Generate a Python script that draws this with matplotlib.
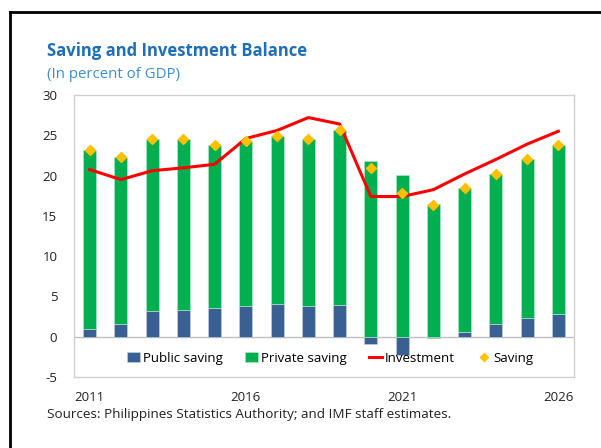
import matplotlib
matplotlib.use("Agg")
import matplotlib.pyplot as plt
from matplotlib.lines import Line2D
import numpy as np

years = list(range(2011, 2027))
public = [0.96, 1.6, 3.17, 3.33, 3.58, 3.83, 4.04, 3.83, 3.92, -0.92, -2.25, -0.1, 0.6, 1.6, 2.3, 2.83]
total_saving = [23.2, 22.25, 24.6, 24.6, 23.8, 24.3, 24.95, 24.6, 25.67, 20.9, 17.85, 16.4, 18.4, 20.25, 22.1, 23.8]
investment = [20.75, 19.5, 20.6, 20.96, 21.4, 24.6, 25.6, 27.2, 26.4, 17.4, 17.4, 18.25, 20.2, 22.0, 23.9, 25.5]
xtick_labels = ["2011", "2016", "2021", "2026"]

pub = np.array(public)
tot = np.array(total_saving)
private = tot - pub
bottom_priv = np.maximum(pub, 0)

plt.rcParams['font.family'] = ['Open Sans', 'DejaVu Sans']
plt.rcParams['axes.unicode_minus'] = False

fig = plt.figure(figsize=(6.01, 4.48), dpi=100)
ax = fig.add_axes([74/601, 1-377/448, 500/601, 282/448])

x = np.arange(len(years))
w = 0.42
b1 = ax.bar(x, pub, w, color='#3a5f93', edgecolor='#c8d4e4', linewidth=0.4, label='Public saving', zorder=2)
b2 = ax.bar(x, private, w, bottom=bottom_priv, color='#00b050', edgecolor='#bfe8cf', linewidth=0.4,
            label='Private saving', zorder=2)
l1, = ax.plot(x, investment, color='#ff0000', lw=2.2, label='Investment', zorder=3)
l2, = ax.plot(x, tot, linestyle='none', marker='D', ms=5, color='#ffc000', label='Saving', zorder=4)
ax.axhline(0, color='#bfbfbf', lw=1, zorder=1)

ax.set_xlim(-0.5, 15.5)
ax.set_ylim(-5, 30)
ax.set_yticks(range(-5, 31, 5))
ax.set_xticks([0, 5, 10, 15])
ax.set_xticklabels(xtick_labels)
ax.tick_params(length=0, labelsize=9.5, colors='#222222')
ax.tick_params(axis='x', pad=10)
ax.tick_params(axis='y', pad=12)
for s in ax.spines.values():
    s.set_color('#d0d0d0')
    s.set_linewidth(1)

ax.legend([b1, b2, l1, l2], ['Public saving', 'Private saving', 'Investment', 'Saving'],
          loc='center', bbox_to_anchor=(0.512, 0.066), ncol=4, frameon=False,
          fontsize=9.5, handlelength=1.0, handletextpad=0.2, columnspacing=1.7,
          handleheight=0.8, markerscale=0.8)

fig.text(47/601, 1-51/448, "Saving and Investment Balance", fontsize=12, fontweight='bold',
         color='#1f6fb8', va='center', ha='left')
fig.text(47/601, 1-74/448, "(In percent of GDP)", fontsize=10.8, color='#3d8fd1',
         va='center', ha='left')
fig.text(47/601, 1-414/448, "Sources: Philippines Statistics Authority; and IMF staff estimates.",
         fontsize=9.7, color='#222222', va='center', ha='left')

# partial black frame
fig.add_artist(Line2D([10/601, 1.0], [1-12/448, 1-12/448], color='black', lw=2, transform=fig.transFigure))
fig.add_artist(Line2D([10/601, 10/601], [0.0, 1-12/448], color='black', lw=2, transform=fig.transFigure))

fig.savefig('out.png', dpi=100)
